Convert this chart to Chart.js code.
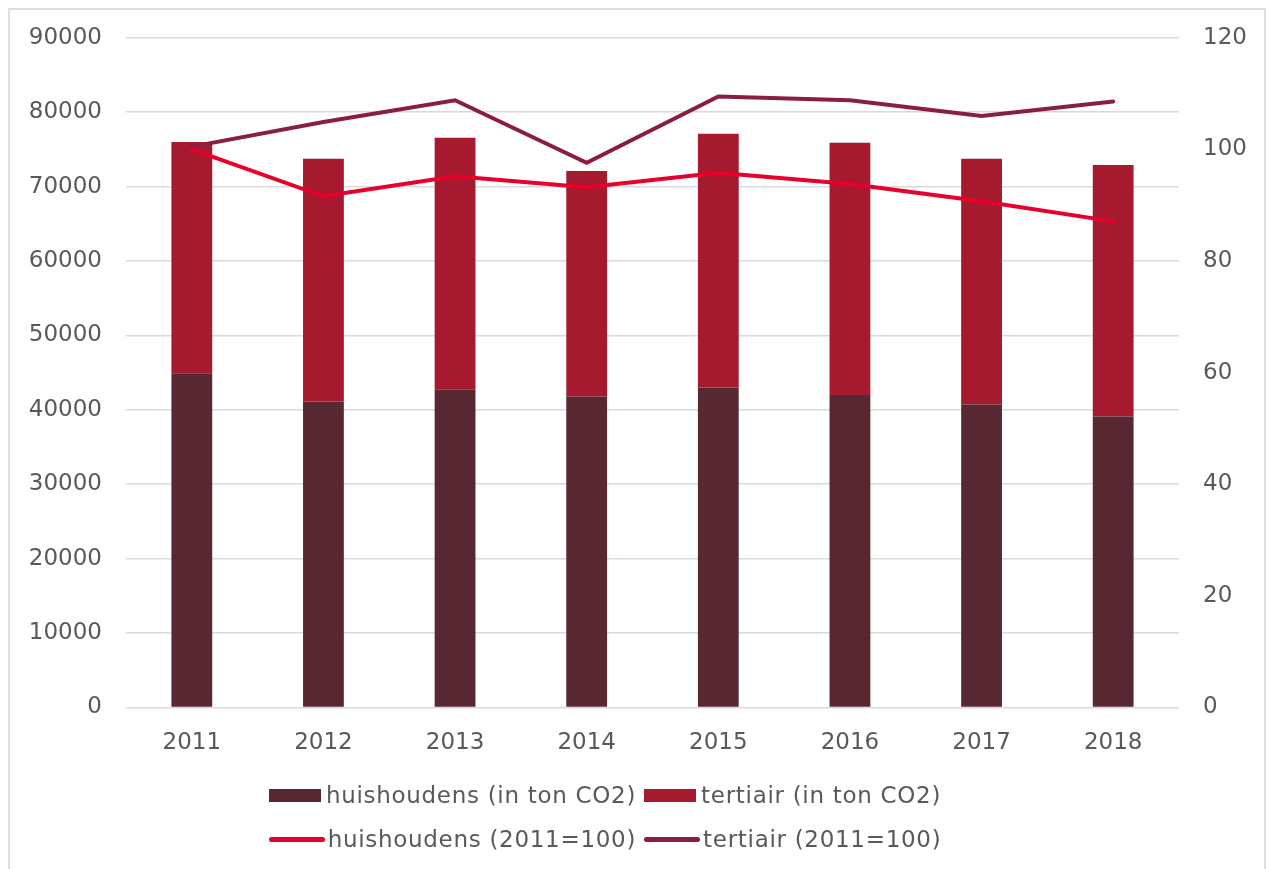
<!DOCTYPE html>
<html>
<head>
<meta charset="utf-8">
<script src="https://cdn.jsdelivr.net/npm/chart.js@4/dist/chart.umd.min.js"></script>
<style>
  html, body { margin: 0; padding: 0; background: #fff; }
  #wrap { position: relative; width: 1266px; height: 869px; overflow: hidden; }
  #frame { position: absolute; left: 8px; top: 8px; width: 1254px; height: 900px;
           border: 2px solid #dedede; border-bottom: none; }
  #chart { position: absolute; left: 0; top: 0; }
  #legend { position: absolute; left: -28px; top: 773px; width: 1266px;
            font-family: "DejaVu Sans", Verdana, sans-serif; font-size: 23px;
            letter-spacing: 0.7px; color: #595959; }
  .row { display: flex; justify-content: center; height: 44px; align-items: center; }
  .item { display: flex; align-items: center; margin: 0 4px; }
  .box { width: 52px; height: 13px; margin-right: 5px; }
  .line { width: 56px; height: 5px; border-radius: 3px; margin-right: 3px; }
</style>
</head>
<body>
<div id="wrap">
  <div id="frame"></div>
  <canvas id="chart" width="1266" height="869"></canvas>
  <div id="legend"></div>
</div>
<script>
// jaren
const years = ['2011', '2012', '2013', '2014', '2015', '2016', '2017', '2018'];

// uitstoot in ton CO2 (linkeras)
const huishoudensTon = [44900, 41100, 42700, 41800, 43000, 42000, 40700, 39100];
const tertiairTon = [31100, 32650, 33870, 30300, 34100, 33900, 33050, 33800];

// index 2011=100 (rechteras)
const huishoudensIndex = [100, 91.6, 95.2, 93.2, 95.8, 93.8, 90.7, 87.1];
const tertiairIndex = [100.5, 104.9, 108.8, 97.6, 109.5, 108.8, 106.0, 108.6];

const fontFamily = '"DejaVu Sans", Verdana, sans-serif';
const textColor = '#595959';
const gridColor = '#d9d9d9';

const ctx = document.getElementById('chart');

const chart = new Chart(ctx, {
    type: 'bar',
    data: {
        labels: years,
        datasets: [
            {
                label: 'huishoudens (in ton CO2)',
                data: huishoudensTon,
                backgroundColor: '#582832',
                yAxisID: 'yTon',
                stack: 'ton',
                order: 2
            },
            {
                label: 'tertiair (in ton CO2)',
                data: tertiairTon,
                backgroundColor: '#a51a2f',
                yAxisID: 'yTon',
                stack: 'ton',
                order: 2
            },
            {
                label: 'huishoudens (2011=100)',
                data: huishoudensIndex,
                type: 'line',
                borderColor: '#e6002a',
                backgroundColor: '#e6002a',
                borderWidth: 4,
                borderCapStyle: 'round',
                pointRadius: 0,
                tension: 0,
                yAxisID: 'yIndex',
                order: 0
            },
            {
                label: 'tertiair (2011=100)',
                data: tertiairIndex,
                type: 'line',
                borderColor: '#8a1e42',
                backgroundColor: '#8a1e42',
                borderWidth: 4,
                borderCapStyle: 'round',
                pointRadius: 0,
                tension: 0,
                yAxisID: 'yIndex',
                order: 1
            }
        ]
    },
    options: {
        responsive: false,
        animation: false,
        layout: {
            padding: { left: 0, right: 0, top: 28, bottom: 98 }
        },
        datasets: {
            bar: { categoryPercentage: 1, barPercentage: 0.31 }
        },
        plugins: {
            legend: { display: false },
            tooltip: { enabled: false }
        },
        scales: {
            x: {
                stacked: true,
                grid: { display: false },
                border: { display: false },
                ticks: {
                    color: textColor,
                    padding: 14,
                    font: { family: fontFamily, size: 23 }
                }
            },
            yTon: {
                type: 'linear',
                position: 'left',
                stacked: true,
                min: 0,
                max: 90000,
                grid: { color: gridColor, lineWidth: 1.5, drawTicks: false },
                border: { display: false },
                ticks: {
                    stepSize: 10000,
                    color: textColor,
                    padding: 24,
                    font: { family: fontFamily, size: 23 },
                    callback: v => String(v)
                },
                afterFit: scale => { scale.width = 126; }
            },
            yIndex: {
                type: 'linear',
                position: 'right',
                min: 0,
                max: 120,
                grid: { drawOnChartArea: false, drawTicks: false },
                border: { display: false },
                ticks: {
                    stepSize: 20,
                    color: textColor,
                    padding: 24,
                    font: { family: fontFamily, size: 23 },
                    callback: v => String(v)
                },
                afterFit: scale => { scale.width = 87; }
            }
        }
    }
});

// legenda in twee rijen, zoals in het origineel
const legendEl = document.getElementById('legend');
const ds = chart.data.datasets;
[[0, 1], [2, 3]].forEach(pair => {
    const row = document.createElement('div');
    row.className = 'row';
    pair.forEach(i => {
        const d = ds[i];
        const item = document.createElement('div');
        item.className = 'item';
        const sw = document.createElement('span');
        sw.className = d.type === 'line' ? 'line' : 'box';
        sw.style.background = d.type === 'line' ? d.borderColor : d.backgroundColor;
        const txt = document.createElement('span');
        txt.textContent = d.label;
        item.appendChild(sw);
        item.appendChild(txt);
        row.appendChild(item);
    });
    legendEl.appendChild(row);
});
</script>
</body>
</html>
